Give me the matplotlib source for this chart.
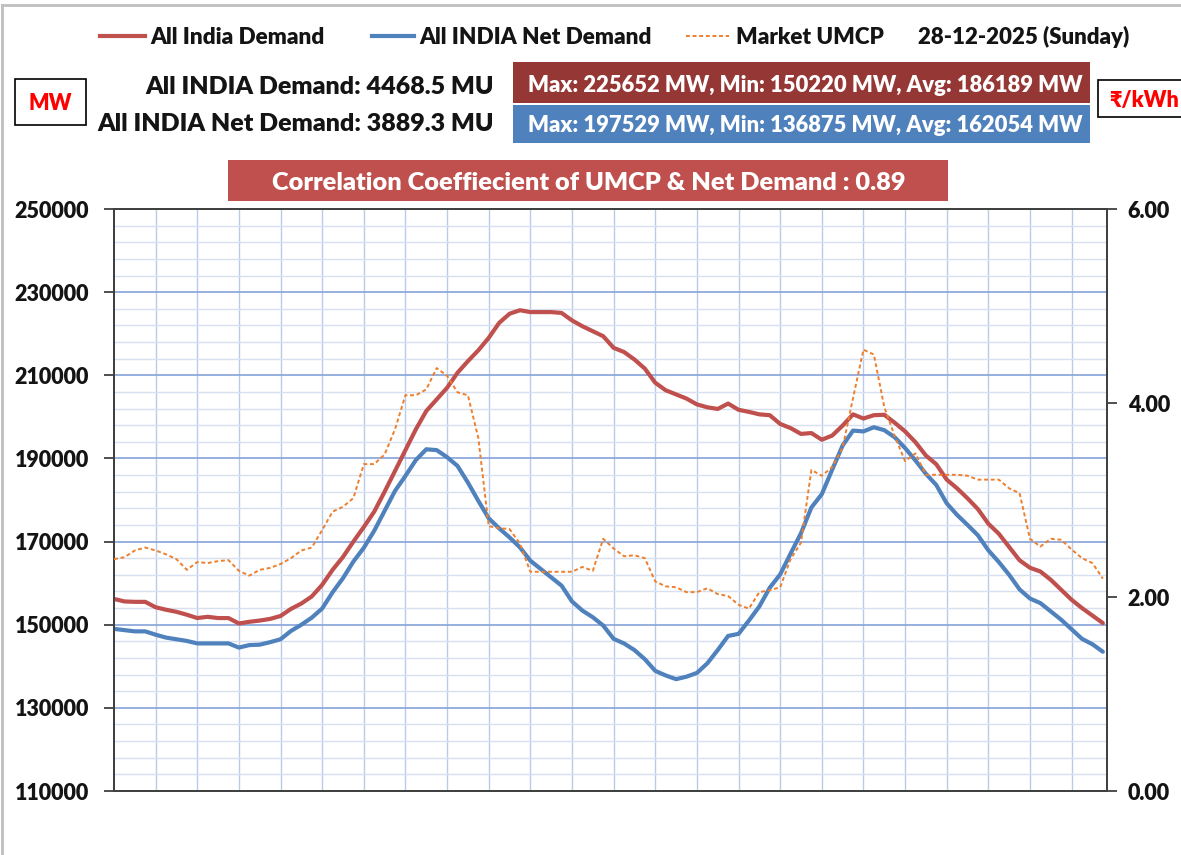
import matplotlib
matplotlib.use('Agg')
import matplotlib.pyplot as plt
from matplotlib.patches import Rectangle
from matplotlib.lines import Line2D
from matplotlib.ticker import FormatStrFormatter
import numpy as np

plt.rcParams['font.family'] = ['Lato', 'DejaVu Sans']

# ---------------- data (96 time blocks) ----------------
demand = [156200, 155600, 155500, 155500, 154200, 153600, 153100, 152400,
          151600, 151900, 151600, 151600, 150300, 150700, 151000, 151400,
          152100, 153800, 155100, 156800, 159600, 163200, 166300, 170000,
          173500, 177200, 182000, 187000, 192000, 197000, 201400, 204200,
          207000, 210600, 213400, 216000, 219000, 222600, 224800, 225650,
          225200, 225200, 225200, 225000, 223200, 221800, 220600, 219400,
          216600, 215600, 213800, 211600, 208200, 206400, 205400, 204400,
          203000, 202300, 201900, 203200, 201700, 201200, 200600, 200400,
          198300, 197300, 195900, 196100, 194500, 195500, 197900, 200600,
          199600, 200400, 200500, 198600, 196500, 193900, 190700, 188600,
          184900, 182800, 180400, 177800, 174300, 171900, 168700, 165500,
          163700, 162800, 160800, 158400, 156000, 154000, 152200, 150400]

net_demand = [149000, 148700, 148400, 148400, 147600, 146900, 146500, 146100,
              145500, 145500, 145500, 145500, 144500, 145100, 145200, 145800,
              146500, 148500, 150000, 151700, 153900, 157800, 161200, 165200,
              168500, 172600, 177400, 182200, 185800, 189600, 192200, 192000,
              190300, 188200, 184200, 179800, 175600, 173200, 171000, 168600,
              165400, 163400, 161400, 159400, 155600, 153400, 151800, 149800,
              146600, 145500, 143900, 141700, 138900, 137800, 136900, 137500,
              138400, 140700, 143900, 147300, 147800, 151000, 154400, 158900,
              162100, 167100, 172000, 178200, 181400, 187300, 193100, 196700,
              196500, 197500, 196800, 195100, 192500, 189500, 186300, 183600,
              179200, 176400, 174000, 171500, 167900, 165100, 162000, 158500,
              156300, 155200, 153200, 151200, 148900, 146600, 145300, 143500]

umcp = [2.39, 2.41, 2.48, 2.51, 2.48, 2.44, 2.39, 2.28,
        2.36, 2.35, 2.37, 2.38, 2.27, 2.22, 2.28, 2.30,
        2.34, 2.40, 2.48, 2.51, 2.69, 2.88, 2.93, 3.02,
        3.37, 3.37, 3.47, 3.73, 4.08, 4.08, 4.14, 4.36,
        4.28, 4.11, 4.08, 3.64, 2.73, 2.71, 2.70, 2.55,
        2.26, 2.26, 2.26, 2.26, 2.26, 2.31, 2.27, 2.60,
        2.50, 2.42, 2.43, 2.40, 2.16, 2.11, 2.10, 2.05,
        2.05, 2.09, 2.03, 2.01, 1.92, 1.88, 2.05, 2.07,
        2.10, 2.39, 2.56, 3.31, 3.25, 3.34, 3.54, 4.05,
        4.55, 4.50, 3.96, 3.66, 3.40, 3.48, 3.26, 3.26,
        3.26, 3.26, 3.25, 3.21, 3.21, 3.21, 3.12, 3.07,
        2.60, 2.52, 2.60, 2.59, 2.49, 2.40, 2.35, 2.19]

left_ticks = [110000, 130000, 150000, 170000, 190000, 210000, 230000, 250000]
right_ticks = [0, 2, 4, 6]

series_names = ['All India Demand', 'All INDIA Net Demand', 'Market UMCP']
date_label = '28-12-2025 (Sunday)'
demand_mu = 'All INDIA Demand: 4468.5 MU'
net_mu = 'All INDIA Net Demand: 3889.3 MU'
demand_stats = 'Max: 225652 MW, Min: 150220 MW, Avg: 186189 MW'
net_stats = 'Max: 197529 MW, Min: 136875 MW, Avg: 162054 MW'
corr_text = 'Correlation Coeffiecient of UMCP & Net Demand : 0.89'

# ---------------- styles ----------------
RED = '#C0504D'
BLUE = '#4F81BD'
ORANGE = '#EE7F2D'
DARKRED = '#953735'
SPINE = '#404040'
TXT = '#141414'
WT = 'heavy'

W, H = 1181, 855
fig = plt.figure(figsize=(W / 100, H / 100), dpi=100)


def fx(x):
    return x / W


def fy(y):
    return 1 - y / H


ax = fig.add_axes([fx(114), fy(791), fx(1107) - fx(114), fy(209) - fy(791)])
x = np.arange(len(demand))
ax.set_xlim(0, 95.4)
ax.set_ylim(110000, 250000)
ax.set_yticks(left_ticks)
ax.set_yticks(np.arange(110000, 250001, 4000), minor=True)
ax.set_xticks(np.arange(4, 93, 4))
ax.tick_params(axis='x', length=0, labelbottom=False)
ax.grid(True, which='minor', axis='y', color='#D6E0F0', lw=1.0, zorder=0)
ax.grid(True, which='major', axis='x', color='#B9CBE8', lw=1.0, zorder=0)
ax.grid(True, which='major', axis='y', color='#8EA9DB', lw=1.3, zorder=0)
ax.set_axisbelow(True)
ax.tick_params(axis='y', which='minor', length=0)
ax.tick_params(axis='y', which='major', direction='out', length=7, width=1.3,
               color=SPINE, pad=11, labelsize=15.5, labelcolor=TXT)
for lab in ax.get_yticklabels():
    lab.set_fontweight(WT)

ax.plot(x, demand, color=RED, lw=3.0, solid_capstyle='round', zorder=3)
ax.plot(x, net_demand, color=BLUE, lw=3.0, solid_capstyle='round', zorder=3)

ax2 = ax.twinx()
ax2.set_ylim(0, 6)
ax2.set_yticks(right_ticks)
ax2.yaxis.set_major_formatter(FormatStrFormatter('%.2f'))
ax2.tick_params(axis='y', direction='out', length=7, width=1.3, color=SPINE,
                pad=8, labelsize=15.5, labelcolor=TXT)
for lab in ax2.get_yticklabels():
    lab.set_fontweight(WT)
ax2.plot(x, umcp, color=ORANGE, lw=1.4, ls=(0, (2.0, 1.4)), zorder=4)

for a in (ax, ax2):
    for s in a.spines.values():
        s.set_color(SPINE)
        s.set_linewidth(1.3)

# ---------------- outer frame (top & left) ----------------
fig.add_artist(Line2D([fx(2), fx(2)], [0, fy(5)], color='#BFBFBF', lw=2))
fig.add_artist(Line2D([fx(2), 1], [fy(5), fy(5)], color='#BFBFBF', lw=2))

# ---------------- legend row ----------------
ly = fy(37)
leg = [(100, 145, 150, RED, '-', 3.0, series_names[0]),
       (372, 414, 419, BLUE, '-', 3.0, series_names[1]),
       (686, 729, 736, ORANGE, (0, (2.0, 1.4)), 1.4, series_names[2])]
for x0, x1, tx, c, ls, lw, name in leg:
    fig.add_artist(Line2D([fx(x0), fx(x1)], [fy(36), fy(36)], color=c, lw=lw, ls=ls))
    fig.text(fx(tx), ly, name, fontsize=16.2, fontweight=WT, va='center',
             ha='left', color=TXT)
fig.text(fx(918), ly, date_label, fontsize=16, fontweight=WT, va='center',
         ha='left', color=TXT)

# ---------------- MU texts ----------------
fig.text(fx(494), fy(87), demand_mu, fontsize=18, fontweight=WT,
         ha='right', va='center', color=TXT)
fig.text(fx(494), fy(124), net_mu, fontsize=18, fontweight=WT,
         ha='right', va='center', color=TXT)

# ---------------- boxes ----------------
def box(x0, y0, x1, y1, fc, ec=None, lw=0):
    fig.add_artist(Rectangle((fx(x0), fy(y1)), fx(x1) - fx(x0), fy(y0) - fy(y1),
                             transform=fig.transFigure, facecolor=fc,
                             edgecolor=ec if ec else fc, lw=lw))


box(513, 62, 1090, 103, DARKRED)
box(513, 105, 1090, 143, BLUE)
fig.text(fx(805), fy(85), demand_stats, fontsize=15.8, fontweight=WT,
         color='white', ha='center', va='center')
fig.text(fx(805), fy(126), net_stats, fontsize=15.8, fontweight=WT,
         color='white', ha='center', va='center')

box(228, 160, 948, 201, RED)
fig.text(fx(589), fy(183), corr_text, fontsize=18.3, fontweight=WT,
         color='white', ha='center', va='center')

box(15, 79, 86, 125, 'white', 'black', 1.2)
fig.text(fx(50.5), fy(103), 'MW', fontsize=15.5, fontweight=WT, color='red',
         ha='center', va='center')

box(1098, 80, 1185, 117, 'white', 'black', 1.2)
fig.text(fx(1109), fy(100), '₹/kWh', fontsize=15.5, fontweight=WT, color='red',
         ha='left', va='center')

fig.savefig('out.png', dpi=100)
